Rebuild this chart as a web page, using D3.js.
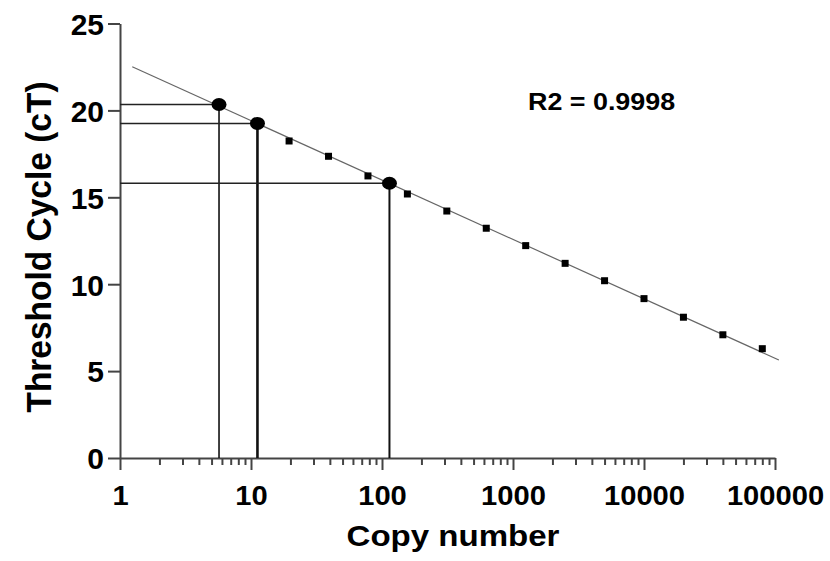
<!DOCTYPE html>
<html>
<head>
<meta charset="utf-8">
<script src="https://cdn.jsdelivr.net/npm/d3@7"></script>
<style>
body{margin:0;background:#fff;}
text{font-family:"Liberation Sans",Arial,sans-serif;font-weight:bold;fill:#000;}
</style>
</head>
<body>
<div id="chart"></div>
<script>
const width = 830
const height = 561

// standard curve (2-fold dilutions)
const copies = [19.53,39.06,78.13,156.25,312.5,625,1250,2500,5000,10000,20000,40000,80000]
const ct = [18.24,17.36,16.23,15.19,14.21,13.22,12.22,11.20,10.20,9.17,8.10,7.09,6.29]

// unknown samples
const sampleCopies = [5.7,11.2,114]
const sampleCt = [20.34,19.25,15.81]

// regression line end points
const fitX = [1.24,107000]
const fitY = [22.51,5.64]

const xTicks = [1,10,100,1000,10000,100000]
const yTicks = [0,5,10,15,20,25]

const margin = {left:120, top:23.5, right:55, bottom:103}

const x = d3.scaleLog().domain([1,100000]).range([margin.left,width-margin.right])
const y = d3.scaleLinear().domain([0,25]).range([height-margin.bottom,margin.top])

const svg = d3.select("#chart")
.append("svg")
.attr("width",width)
.attr("height",height)

const axisColor = "#444"

// minor ticks
const minor = []
for(let d=1; d<100000; d*=10){
for(let k=2;k<10;k++) minor.push(d*k)
}

svg.append("g")
.attr("transform",`translate(0,${y(0)})`)
.call(d3.axisBottom(x).tickValues(minor).tickSize(7).tickFormat(""))
.call(g=>g.select(".domain").remove())
.call(g=>g.selectAll("line").attr("stroke",axisColor).attr("stroke-width",2))

const xAxis = svg.append("g")
.attr("transform",`translate(0,${y(0)})`)
.call(d3.axisBottom(x).tickValues(xTicks).tickSize(12).tickSizeOuter(0).tickPadding(15).tickFormat(d3.format("d")))

xAxis.select(".domain").attr("stroke",axisColor).attr("stroke-width",2)
xAxis.selectAll("line").attr("stroke",axisColor).attr("stroke-width",2)
xAxis.selectAll("text")
.style("font-size","27.5px")
.attr("fill","#000")
.attr("transform","scale(1.06,1)")

const yAxis = svg.append("g")
.attr("transform",`translate(${x(1)},0)`)
.call(d3.axisLeft(y).tickValues(yTicks).tickSize(12).tickSizeOuter(0).tickPadding(4))

yAxis.select(".domain").attr("stroke",axisColor).attr("stroke-width",2)
yAxis.selectAll("line").attr("stroke",axisColor).attr("stroke-width",2)
yAxis.selectAll("text")
.style("font-size","30px")
.attr("dy","0.36em")
.attr("fill","#000")

// regression line
svg.append("line")
.attr("x1",x(fitX[0])).attr("y1",y(fitY[0]))
.attr("x2",x(fitX[1])).attr("y2",y(fitY[1]))
.attr("stroke","#666")
.attr("stroke-width",1.2)

// guide lines for samples
const vWidths = [1.6,2.6,2]
sampleCopies.forEach((c,i)=>{
svg.append("line")
.attr("x1",x(1)).attr("x2",x(c))
.attr("y1",y(sampleCt[i])).attr("y2",y(sampleCt[i]))
.attr("stroke","#222").attr("stroke-width",1.6)
svg.append("line")
.attr("x1",x(c)).attr("x2",x(c))
.attr("y1",y(sampleCt[i])).attr("y2",y(0))
.attr("stroke","#111").attr("stroke-width",vWidths[i])
})

// standard points
svg.selectAll("rect.pt")
.data(copies)
.enter()
.append("rect")
.attr("class","pt")
.attr("x",d=>x(d)-3.5)
.attr("y",(d,i)=>y(ct[i])-3.5)
.attr("width",7)
.attr("height",7)
.attr("fill","#000")

// sample points
svg.selectAll("ellipse")
.data(sampleCopies)
.enter()
.append("ellipse")
.attr("cx",d=>x(d))
.attr("cy",(d,i)=>y(sampleCt[i]))
.attr("rx",7.5)
.attr("ry",6.5)
.attr("fill","#000")

svg.append("text")
.attr("transform","translate(528,110) scale(1.12,1)")
.style("font-size","24px")
.text("R2 = 0.9998")

svg.append("text")
.attr("transform","translate(453,546) scale(1.14,1)")
.attr("text-anchor","middle")
.style("font-size","29px")
.text("Copy number")

svg.append("text")
.attr("transform","translate(51,247) rotate(-90) scale(1,1.05)")
.attr("text-anchor","middle")
.style("font-size","33.5px")
.text("Threshold Cycle (cT)")
</script>
</body>
</html>
